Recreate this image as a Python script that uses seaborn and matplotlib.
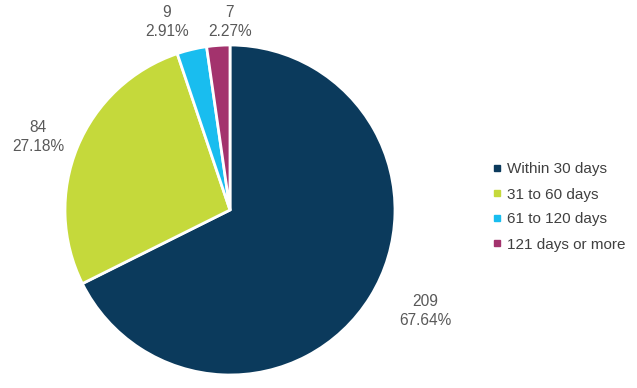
import matplotlib
matplotlib.use("Agg")
import matplotlib.pyplot as plt
import seaborn as sns
from matplotlib.lines import Line2D

categories = ["Within 30 days", "31 to 60 days", "61 to 120 days", "121 days or more"]
counts = [209, 84, 9, 7]
percents = ["67.64%", "27.18%", "2.91%", "2.27%"]
colors = ["#0B3A5C", "#C5D93B", "#19BDEF", "#A3336D"]

sns.set_theme(style="white")
plt.rcParams['font.family'] = ['Liberation Sans', 'DejaVu Sans']

fig = plt.figure(figsize=(6.37, 3.88), dpi=100)
ax = fig.add_axes([(230 - 165) / 637, (388 - 375) / 388, 330 / 637, 330 / 388])
wedges, _ = ax.pie(counts, colors=colors, startangle=90, counterclock=False,
                   wedgeprops=dict(edgecolor="white", linewidth=2))
ax.set_xlim(-1.0, 1.0)
ax.set_ylim(-1.0, 1.0)
ax.set_aspect("equal")

label_pos = [(425, 311), (38, 137), (167, 22), (230, 22)]
for (px, py), c, p in zip(label_pos, counts, percents):
    fig.text(px / 637, 1 - py / 388, f"{c}\n{p}", ha="center", va="center",
             fontsize=11.2, color="#595959", linespacing=1.35)

handles = [Line2D([0], [0], marker="s", linestyle="", markersize=5,
                  markerfacecolor=col, markeredgecolor=col) for col in colors]
fig.legend(handles, categories, loc="center left", bbox_to_anchor=(476 / 637, 1 - 207 / 388),
           frameon=False, fontsize=11, labelcolor="#404040", handletextpad=0.1,
           handlelength=1.0, labelspacing=0.72)

fig.savefig("out.png", dpi=100)
